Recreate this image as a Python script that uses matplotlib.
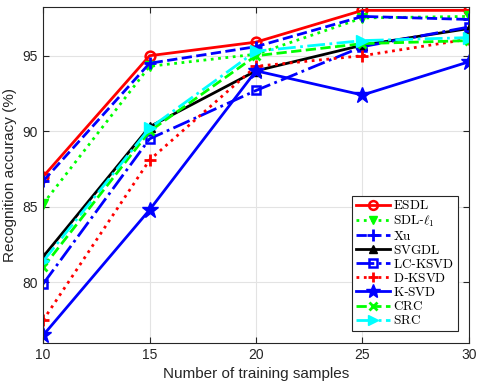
import matplotlib
matplotlib.use("Agg")
import matplotlib.pyplot as plt

plt.rcParams['mathtext.fontset'] = 'cm'
plt.rcParams['font.family'] = ['Liberation Sans', 'DejaVu Sans']

samples = [10, 15, 20, 25, 30]

esdl = [87.0, 95.0, 95.9, 98.0, 98.0]
sdl_l1 = [85.2, 94.3, 95.1, 97.5, 97.6]
xu = [86.7, 94.5, 95.6, 97.6, 97.4]
svgdl = [81.7, 90.3, 94.0, 95.7, 96.8]
lc_ksvd = [79.9, 89.5, 92.7, 95.6, 96.9]
d_ksvd = [77.5, 88.1, 94.3, 95.0, 96.1]
k_svd = [76.5, 84.8, 94.0, 92.4, 94.6]
crc = [81.0, 90.0, 95.0, 95.8, 96.0]
src = [81.4, 90.2, 95.3, 96.0, 96.2]

fig = plt.figure(figsize=(4.79, 3.87), dpi=100)
ax = fig.add_axes([0.09, 0.114, 0.889, 0.867])

lw = 2
ax.plot(samples, esdl, color='red', ls='-', lw=lw, marker='o', ms=7, mfc='none', mew=1.8,
        label=r'$\mathrm{ESDL}$')
ax.plot(samples, sdl_l1, color='#00ff00', ls=':', lw=lw, marker='v', ms=7, mew=1,
        label=r'$\mathrm{SDL}$-$\ell_1$')
ax.plot(samples, xu, color='blue', ls='--', lw=lw, marker='+', ms=9, mew=2,
        label=r'$\mathrm{Xu}$')
ax.plot(samples, svgdl, color='black', ls='-', lw=lw, marker='^', ms=7,
        label=r'$\mathrm{SVGDL}$')
ax.plot(samples, lc_ksvd, color='blue', ls='-.', lw=lw, marker='s', ms=6, mfc='none', mew=1.8,
        label=r'$\mathrm{LC}$-$\mathrm{KSVD}$')
ax.plot(samples, d_ksvd, color='red', ls=':', lw=lw, marker='+', ms=8, mew=2,
        label=r'$\mathrm{D}$-$\mathrm{KSVD}$')
ax.plot(samples, k_svd, color='blue', ls='-', lw=lw, marker='*', ms=12,
        label=r'$\mathrm{K}$-$\mathrm{SVD}$')
ax.plot(samples, crc, color='#00ff00', ls='--', lw=lw, marker='x', ms=6, mew=2,
        label=r'$\mathrm{CRC}$')
ax.plot(samples, src, color='cyan', ls='-.', lw=lw, marker='>', ms=8,
        label=r'$\mathrm{SRC}$')

ax.set_xlim(10, 30)
ax.set_ylim(76, 98.2)
ax.set_xticks([10, 15, 20, 25, 30])
ax.set_yticks([80, 85, 90, 95])
ax.grid(True, color='#e3e3e3', lw=0.8)
ax.set_axisbelow(True)
ax.tick_params(direction='in', top=True, right=True, labelsize=10, color='#262626',
               labelcolor='#262626', length=4)
for s in ax.spines.values():
    s.set_color('#262626')
    s.set_linewidth(0.8)

ax.set_xlabel('Number of training samples', fontsize=11, color='#262626')
ax.set_ylabel('Recognition accuracy (%)', fontsize=11, color='#262626')

leg = ax.legend(loc='lower right', bbox_to_anchor=(0.975, 0.035), fontsize=9.5,
                handlelength=2.6, labelspacing=0.08, borderpad=0.3, handletextpad=0.25,
                borderaxespad=0, fancybox=False, framealpha=1, edgecolor='#262626',
                markerscale=0.9)
leg.get_frame().set_linewidth(0.8)

fig.savefig('out.png', dpi=100)
